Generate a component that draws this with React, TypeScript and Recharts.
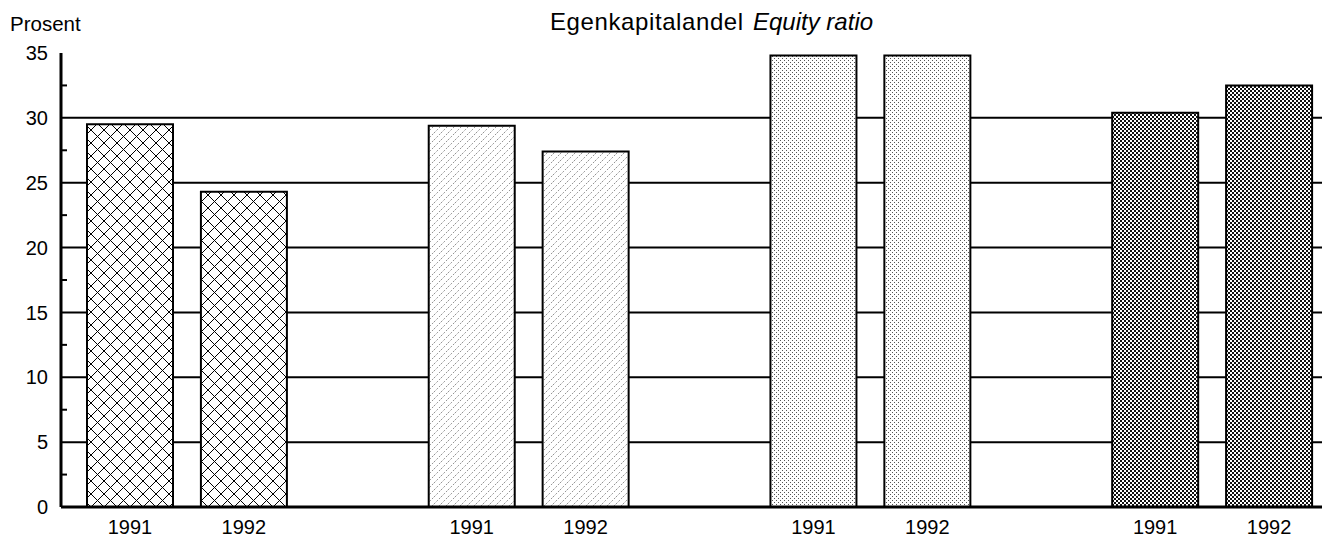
import { BarChart, Bar, XAxis, YAxis, CartesianGrid, Cell } from "recharts";

// four sectors, 1991 and 1992 each, with an empty slot between sectors
const categories = [
  "s1-1991", "s1-1992", "gap-1",
  "s2-1991", "s2-1992", "gap-2",
  "s3-1991", "s3-1992", "gap-3",
  "s4-1991", "s4-1992",
];
const tickLabels = [
  "1991", "1992", "",
  "1991", "1992", "",
  "1991", "1992", "",
  "1991", "1992",
];
const equityRatio: (number | null)[] = [
  29.5, 24.3, null,
  29.4, 27.4, null,
  34.8, 34.8, null,
  30.4, 32.5,
];
const barPatterns = [
  "cross", "cross", "",
  "diag", "diag", "",
  "dots", "dots", "",
  "check", "check",
];

const yTicks = [0, 2.5, 5, 7.5, 10, 12.5, 15, 17.5, 20, 22.5, 25, 27.5, 30, 32.5, 35];
const gridValues = [5, 10, 15, 20, 25, 30];

const FONT = '"Liberation Sans", Arial, Helvetica, sans-serif';

const data = categories.map((c, i) => ({
  key: c,
  label: tickLabels[i],
  value: equityRatio[i],
  pattern: barPatterns[i],
}));

function YTick(props: any) {
  const { x, y, payload } = props;
  const v = payload.value as number;
  if (v % 5 !== 0) {
    // small minor tick on the inside of the axis
    return <line x1={x + 13} x2={x + 19} y1={y} y2={y} stroke="#000" strokeWidth={2} />;
  }
  return (
    <text x={x} y={y} dy="0.355em" textAnchor="end" fontSize={20} fontFamily={FONT} fill="#000">
      {v}
    </text>
  );
}

export default function App() {
  return (
    <div
      style={{
        position: "absolute",
        left: 0,
        top: 0,
        width: 1322,
        height: 537,
        overflow: "hidden",
        background: "#fff",
      }}
    >
      <BarChart
        width={1326}
        height={537}
        data={data}
        margin={{ top: 53, right: 0, left: 0, bottom: 0 }}
        barCategoryGap={14}
      >
        <defs>
          <pattern id="cross" width={13} height={13} patternUnits="userSpaceOnUse">
            <rect width={13} height={13} fill="#fff" />
            <path d="M0,0 L13,13 M13,0 L0,13" stroke="#000" strokeWidth={1} />
          </pattern>
          <pattern id="diag" width={7} height={7} patternUnits="userSpaceOnUse">
            <rect width={7} height={7} fill="#fff" />
            <path d="M0,7 L7,0 M-1,1 L1,-1 M6,8 L8,6" stroke="#777" strokeWidth={0.8} strokeDasharray="2 1.5" />
          </pattern>
          <pattern id="dots" width={4} height={4} patternUnits="userSpaceOnUse">
            <rect width={4} height={4} fill="#fff" />
            <rect x={0} y={0} width={1} height={1} fill="#555" />
            <rect x={2} y={2} width={1} height={1} fill="#555" />
          </pattern>
          <pattern id="check" width={4} height={4} patternUnits="userSpaceOnUse">
            <rect width={4} height={4} fill="#fff" />
            <rect x={0} y={0} width={2} height={2} fill="#111" />
            <rect x={2} y={2} width={2} height={2} fill="#111" />
          </pattern>
        </defs>
        <CartesianGrid
          vertical={false}
          horizontalValues={gridValues}
          stroke="#000"
          strokeWidth={2}
        />
        <XAxis
          dataKey="key"
          tickFormatter={(_v: string, i: number) => tickLabels[i]}
          interval={0}
          height={30}
          padding={{ left: 12, right: 0 }}
          tickLine={false}
          tickSize={0}
          tickMargin={13}
          axisLine={{ stroke: "#000", strokeWidth: 3 }}
          tick={{ fontSize: 20, fontFamily: FONT, fill: "#000" }}
        />
        <YAxis
          domain={[0, 35]}
          ticks={yTicks}
          interval={0}
          width={61}
          tickLine={false}
          tickSize={0}
          tickMargin={13}
          axisLine={{ stroke: "#000", strokeWidth: 3 }}
          tick={<YTick />}
        />
        <Bar dataKey="value" stroke="#000" strokeWidth={2} isAnimationActive={false}>
          {data.map((d) => (
            <Cell key={d.key} fill={d.pattern ? `url(#${d.pattern})` : "none"} />
          ))}
        </Bar>
      </BarChart>
      <svg
        width={1322}
        height={537}
        style={{ position: "absolute", left: 0, top: 0, pointerEvents: "none" }}
      >
        <text x={10} y={31} fontSize={20.5} fontFamily={FONT} fill="#000">
          Prosent
        </text>
        <text y={30} fontSize={24} fontFamily={FONT} fill="#000">
          <tspan x={550} letterSpacing={0.6}>Egenkapitalandel</tspan>
          <tspan x={753} fontStyle="italic">Equity ratio</tspan>
        </text>
      </svg>
    </div>
  );
}
